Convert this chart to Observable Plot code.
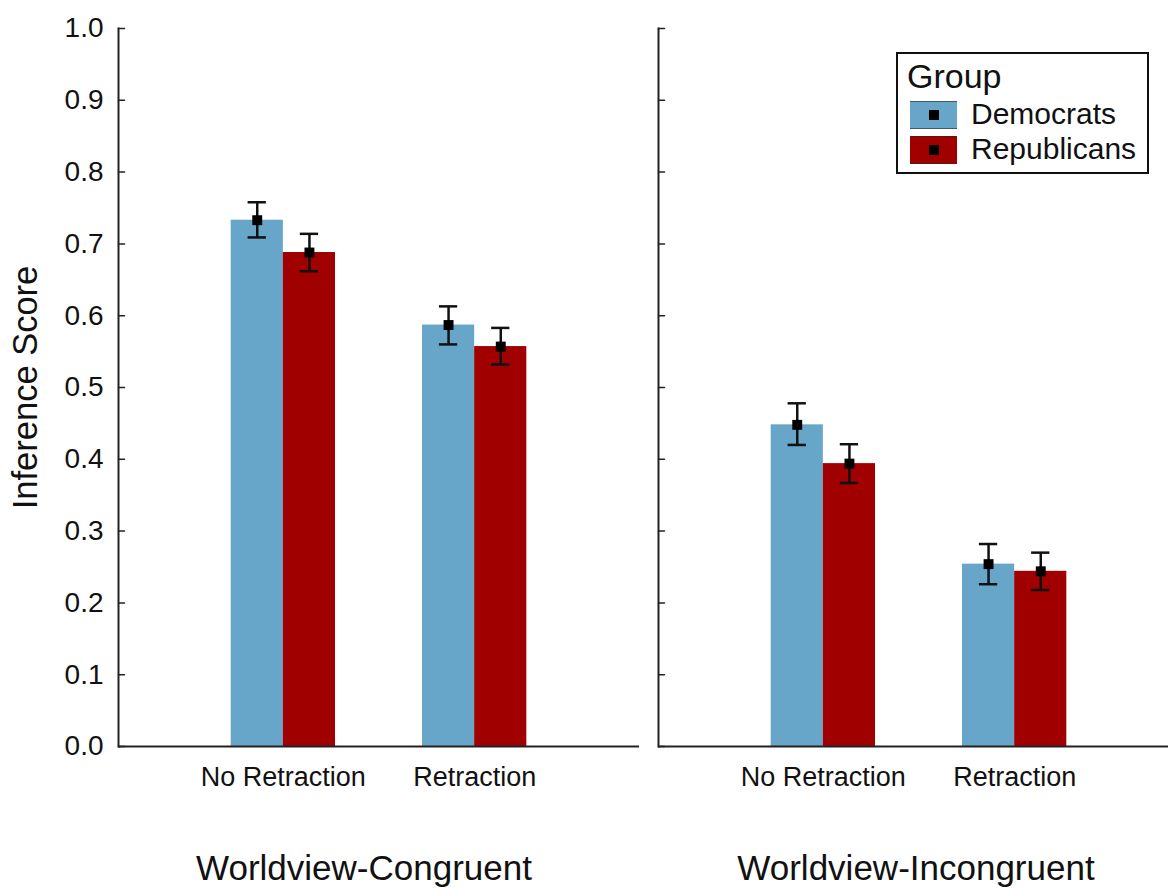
<!DOCTYPE html>
<html>
<head>
<meta charset="utf-8">
<script src="https://cdn.jsdelivr.net/npm/d3@7"></script>
<script src="https://cdn.jsdelivr.net/npm/@observablehq/plot@0.6"></script>
<style>
html, body { margin: 0; padding: 0; background: #fff; overflow: hidden; }
#wrap { position: relative; width: 1168px; height: 888px; overflow: hidden; font-family: "Liberation Sans", Arial, sans-serif; color: #111; }
#wrap svg { max-width: none !important; display: block; }
.legend { position: absolute; left: 896px; top: 52px; width: 253px; height: 122px; box-sizing: border-box; border: 2px solid #111; background: #fff; }
.legend .title { position: absolute; left: 9px; top: 5px; font-size: 34px; line-height: 34px; white-space: nowrap; }
.legend .sw { position: absolute; left: 12px; width: 47px; height: 28px; box-sizing: border-box; border-top: 1px solid rgba(40,40,40,0.6); border-bottom: 1px solid rgba(40,40,40,0.6); }
.legend .sw i { position: absolute; left: 50%; top: 50%; width: 10px; height: 10px; margin: -5px 0 0 -5px; background: #000; }
.legend .lab { position: absolute; left: 73px; font-size: 30px; line-height: 30px; white-space: nowrap; }
</style>
</head>
<body>
<div id="wrap"></div>
<script>
const worldviews = ["Worldview-Congruent", "Worldview-Incongruent"];
const conditions = ["No Retraction", "Retraction"];
const groups = ["Democrats", "Republicans"];
const groupColors = ["#67a6c9", "#a00000"];
// order of values: [Congruent/No Retraction, Congruent/Retraction, Incongruent/No Retraction, Incongruent/Retraction]
const demMean = [0.733, 0.587, 0.448, 0.254];
const demLow  = [0.709, 0.560, 0.420, 0.226];
const demHigh = [0.758, 0.613, 0.478, 0.282];
const repMean = [0.688, 0.557, 0.394, 0.244];
const repLow  = [0.662, 0.532, 0.367, 0.218];
const repHigh = [0.714, 0.583, 0.421, 0.270];
const yTicks = [0.0, 0.1, 0.2, 0.3, 0.4, 0.5, 0.6, 0.7, 0.8, 0.9, 1.0];

function build(group, mean, low, high) {
  const rows = [];
  worldviews.forEach((w, wi) => conditions.forEach((c, ci) => {
    const i = wi * 2 + ci;
    rows.push({worldview: w, condition: c, group, mean: mean[i], low: low[i], high: high[i]});
  }));
  return rows;
}
const dem = build(groups[0], demMean, demLow, demHigh);
const rep = build(groups[1], repMean, repLow, repHigh);

const half = 52.15;   // half of the condition band: each group takes one half
const off = 26.1;     // offset from band centre to each group's centre
const axisColor = "#222";
const tickLine = {draw(context, l) { context.moveTo(0, 0); context.lineTo(0, -l); }};
const titleFont = {fontSize: 35, lineAnchor: "top", frameAnchor: "bottom", dy: 109, fill: "#111"};

const chart = Plot.plot({
  width: 1180,
  height: 888,
  marginLeft: 118,
  marginRight: 1,
  marginTop: 28,
  marginBottom: 142,
  style: {fontFamily: '"Liberation Sans", Arial, sans-serif', fontSize: "27px", color: "#111", background: "white", overflow: "visible"},
  fx: {domain: worldviews, paddingInner: 19 / 540, paddingOuter: 0, round: false, axis: null},
  x: {domain: conditions, paddingInner: 0.4548, paddingOuter: 0.589, round: false},
  y: {domain: [0, 1]},
  color: {domain: groups, range: groupColors},
  marks: [
    Plot.barY(dem, {fx: "worldview", x: "condition", y: "mean", fill: "group", insetRight: half}),
    Plot.barY(rep, {fx: "worldview", x: "condition", y: "mean", fill: "group", insetLeft: half}),
    Plot.ruleY([0], {stroke: axisColor, strokeWidth: 2}),
    Plot.frame({anchor: "left", stroke: axisColor, strokeWidth: 2}),
    Plot.vector(yTicks, {y: d => d, frameAnchor: "left", rotate: 90, length: 6, anchor: "start", shape: tickLine, stroke: axisColor, strokeWidth: 1.5}),
    Plot.ruleX(dem, {fx: "worldview", x: "condition", y1: "low", y2: "high", dx: -off, stroke: "#111", strokeWidth: 2.5}),
    Plot.ruleX(rep, {fx: "worldview", x: "condition", y1: "low", y2: "high", dx: off, stroke: "#111", strokeWidth: 2.5}),
    Plot.tickY(dem, {fx: "worldview", x: "condition", y: "high", dx: -off, insetLeft: 43, insetRight: 43, stroke: "#111", strokeWidth: 2.5}),
    Plot.tickY(dem, {fx: "worldview", x: "condition", y: "low", dx: -off, insetLeft: 43, insetRight: 43, stroke: "#111", strokeWidth: 2.5}),
    Plot.tickY(rep, {fx: "worldview", x: "condition", y: "high", dx: off, insetLeft: 43, insetRight: 43, stroke: "#111", strokeWidth: 2.5}),
    Plot.tickY(rep, {fx: "worldview", x: "condition", y: "low", dx: off, insetLeft: 43, insetRight: 43, stroke: "#111", strokeWidth: 2.5}),
    Plot.dot(dem, {fx: "worldview", x: "condition", y: "mean", dx: -off, symbol: "square", r: 5.6, fill: "#000", stroke: "none"}),
    Plot.dot(rep, {fx: "worldview", x: "condition", y: "mean", dx: off, symbol: "square", r: 5.6, fill: "#000", stroke: "none"}),
    Plot.axisY({ticks: yTicks, tickSize: 0, tickPadding: 15, tickFormat: d3.format(".1f"), fontSize: 28, label: null}),
    Plot.axisY({ticks: [], tickSize: 0, label: "Inference Score", labelAnchor: "center", labelArrow: "none", labelOffset: 106, fontSize: 34.5}),
    Plot.axisX({tickSize: 0, tickPadding: 20, fontSize: 27, label: null}),
    // facet titles below each panel
    Plot.text([worldviews[0]], {fx: d => d, text: d => d, dx: -15, ...titleFont}),
    Plot.text([worldviews[1]], {fx: d => d, text: d => d, dx: -3, ...titleFont})
  ]
});

const wrap = document.getElementById("wrap");
wrap.appendChild(chart);

// legend (HTML, colours from the same arrays)
const legend = document.createElement("div");
legend.className = "legend";
const t = document.createElement("div");
t.className = "title";
t.textContent = "Group";
legend.appendChild(t);
const swTops = [47, 82];
const labTops = [45, 80];
groups.forEach((g, i) => {
  const sw = document.createElement("div");
  sw.className = "sw";
  sw.style.top = swTops[i] + "px";
  sw.style.background = groupColors[i];
  sw.appendChild(document.createElement("i"));
  legend.appendChild(sw);
  const lab = document.createElement("div");
  lab.className = "lab";
  lab.style.top = labTops[i] + "px";
  lab.textContent = g;
  legend.appendChild(lab);
});
wrap.appendChild(legend);
</script>
</body>
</html>
